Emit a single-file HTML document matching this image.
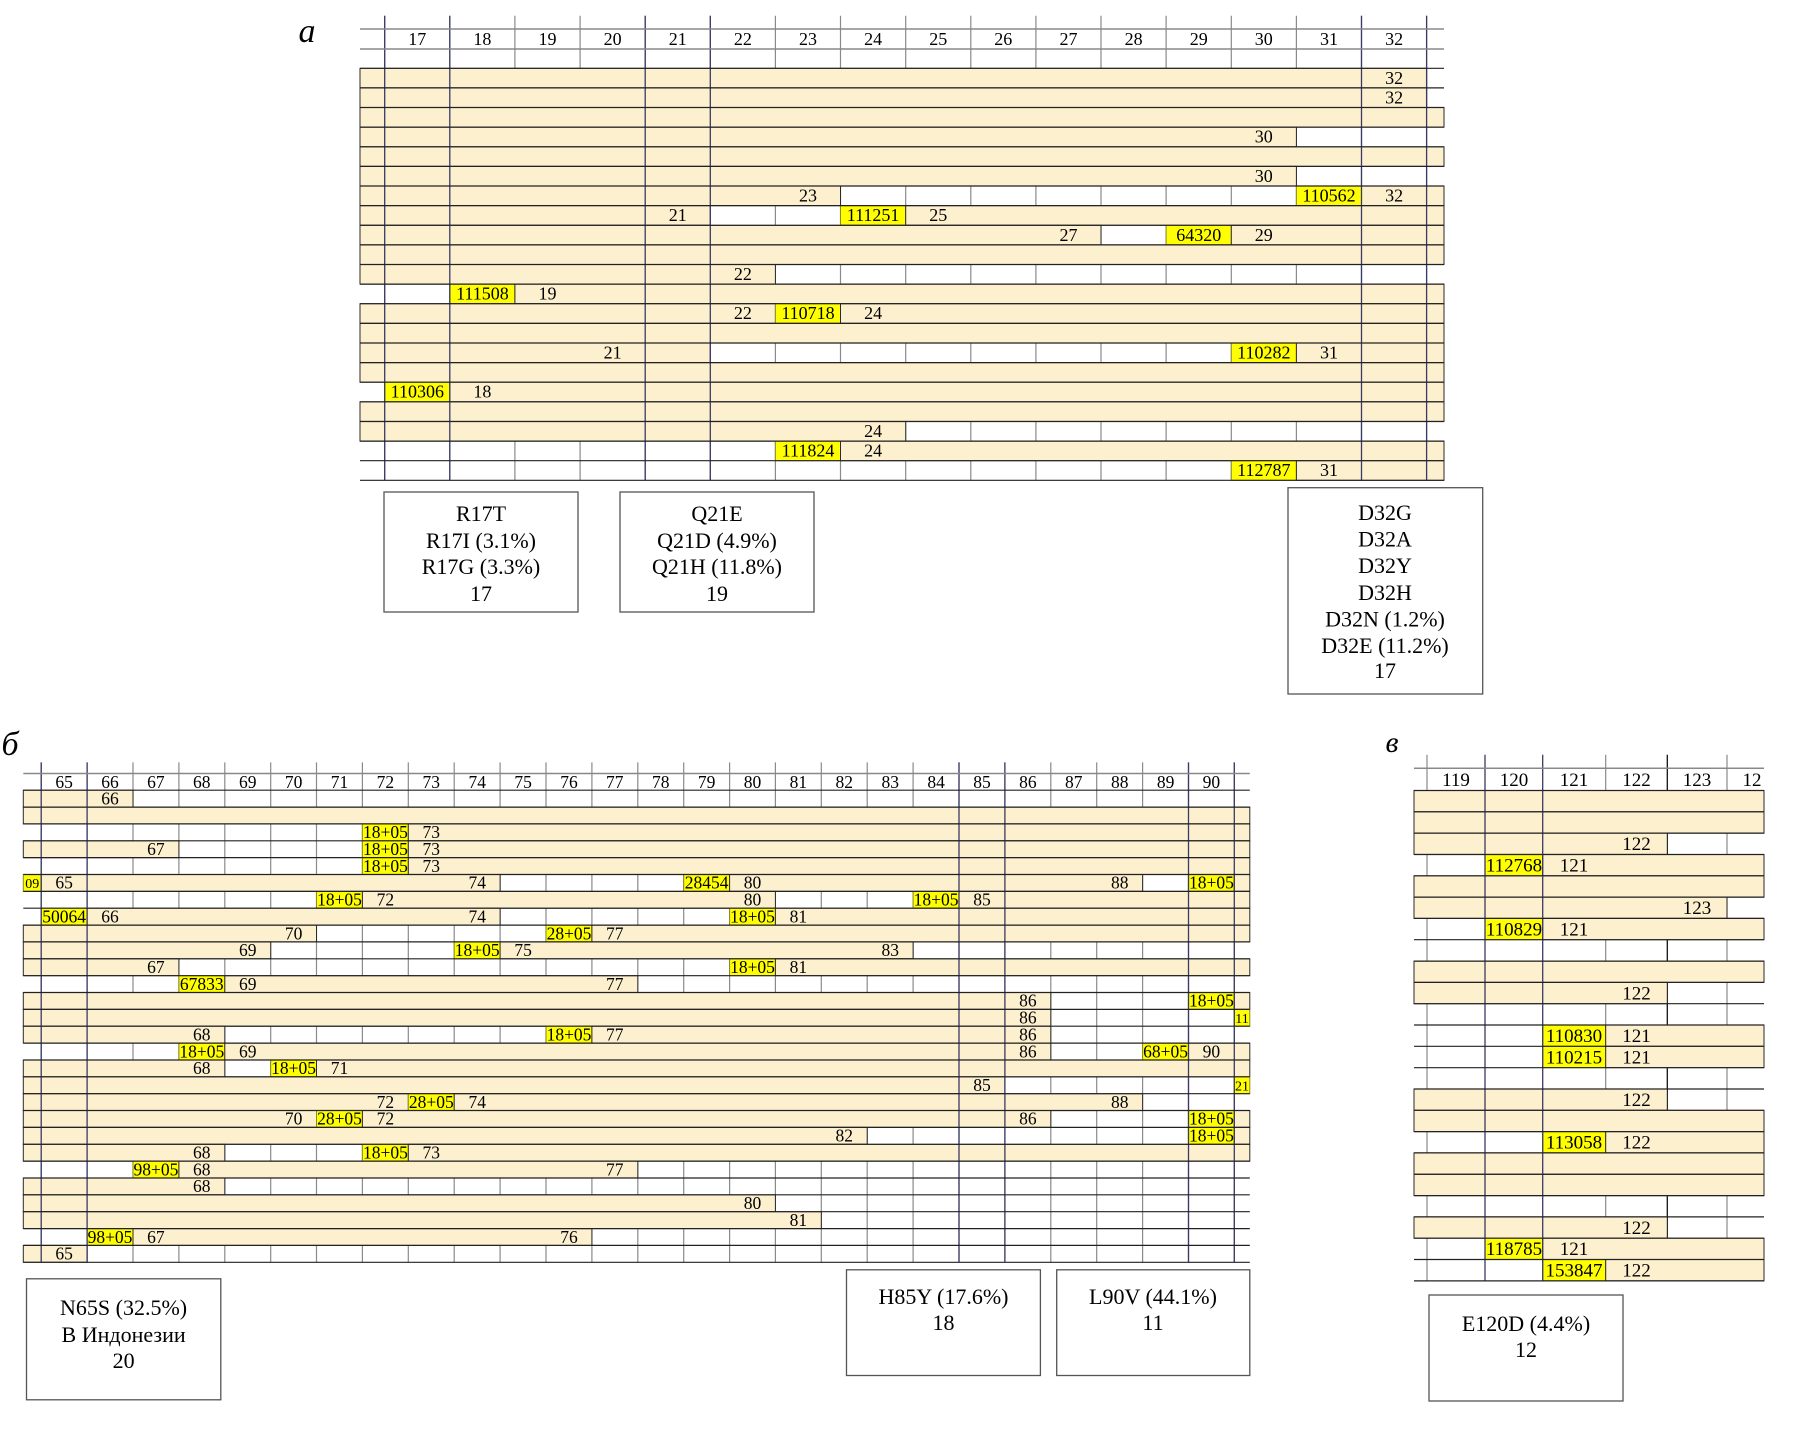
<!DOCTYPE html>
<html><head><meta charset="utf-8"><style>
html,body{margin:0;padding:0;background:#fff}
svg{display:block}
text{font-family:"Liberation Serif",serif;fill:#000;text-anchor:middle}
.b{fill:#fdf0cf;stroke:#2a2a2a;stroke-width:1}
.y{fill:#ffff00;stroke:#8a8a30;stroke-width:1}
.A text{font-size:18px}
.B text{font-size:17.5px}
.C text{font-size:19px}
.box{fill:none;stroke:#555;stroke-width:1.3}
.gv{stroke:#8a8a8a;stroke-width:1.2;fill:none}
.nv{stroke:#3a3a66;stroke-width:1.3;fill:none}
.hl{stroke:#222;stroke-width:1.2;fill:none}
.hg{stroke:#888;stroke-width:1.5;fill:none}
</style></head><body>
<svg width="1801" height="1431" viewBox="0 0 1801 1431" xmlns="http://www.w3.org/2000/svg">
<text x="307" y="42" style="font-size:34px;font-style:italic">а</text>
<text x="10" y="755" style="font-size:34px;font-style:italic">б</text>
<text x="1392" y="752" style="font-size:30px;font-style:italic">в</text>

<!-- ================= PANEL A ================= -->
<g class="A">
<path class="gv" d="M384.7 15.7V480.3M449.8 15.7V480.3M514.9 15.7V480.3M580.1 15.7V480.3M645.2 15.7V480.3M710.3 15.7V480.3M775.4 15.7V480.3M840.5 15.7V480.3M905.7 15.7V480.3M970.8 15.7V480.3M1035.9 15.7V480.3M1101 15.7V480.3M1166.1 15.7V480.3M1231.3 15.7V480.3M1296.4 15.7V480.3M1361.5 15.7V480.3M1426.6 15.7V480.3"/>
<g transform="translate(0,68.3)"><rect class="b" x="360" width="1066.6" height="19.62"/><text x="1394.1" y="15.5">32</text></g>
<g transform="translate(0,87.9)"><rect class="b" x="360" width="1066.6" height="19.62"/><text x="1394.1" y="15.5">32</text></g>
<g transform="translate(0,107.5)"><rect class="b" x="360" width="1084" height="19.62"/></g>
<g transform="translate(0,127.2)"><rect class="b" x="360" width="936.4" height="19.62"/><text x="1263.8" y="15.5">30</text></g>
<g transform="translate(0,146.8)"><rect class="b" x="360" width="1084" height="19.62"/></g>
<g transform="translate(0,166.4)"><rect class="b" x="360" width="936.4" height="19.62"/><text x="1263.8" y="15.5">30</text></g>
<g transform="translate(0,186.0)"><rect class="b" x="360" width="480.5" height="19.62"/><text x="808" y="15.5">23</text><rect class="y" x="1296.4" width="65.1" height="19.62"/><text x="1329" y="15.5">110562</text><rect class="b" x="1361.5" width="82.5" height="19.62"/><text x="1394.1" y="15.5">32</text></g>
<g transform="translate(0,205.6)"><rect class="b" x="360" width="350.3" height="19.62"/><text x="677.8" y="15.5">21</text><rect class="y" x="840.5" width="65.2" height="19.62"/><text x="873.1" y="15.5">111251</text><rect class="b" x="905.7" width="538.3" height="19.62"/><text x="938.2" y="15.5">25</text></g>
<g transform="translate(0,225.3)"><rect class="b" x="360" width="741" height="19.62"/><text x="1068.5" y="15.5">27</text><rect class="y" x="1166.1" width="65.2" height="19.62"/><text x="1198.7" y="15.5">64320</text><rect class="b" x="1231.3" width="212.7" height="19.62"/><text x="1263.8" y="15.5">29</text></g>
<g transform="translate(0,244.9)"><rect class="b" x="360" width="1084" height="19.62"/></g>
<g transform="translate(0,264.5)"><rect class="b" x="360" width="415.4" height="19.62"/><text x="742.9" y="15.5">22</text></g>
<g transform="translate(0,284.1)"><rect class="y" x="449.8" width="65.1" height="19.62"/><text x="482.4" y="15.5">111508</text><rect class="b" x="514.9" width="929.1" height="19.62"/><text x="547.5" y="15.5">19</text></g>
<g transform="translate(0,303.7)"><rect class="b" x="360" width="415.4" height="19.62"/><text x="742.9" y="15.5">22</text><rect class="y" x="775.4" width="65.1" height="19.62"/><text x="808" y="15.5">110718</text><rect class="b" x="840.5" width="603.5" height="19.62"/><text x="873.1" y="15.5">24</text></g>
<g transform="translate(0,323.4)"><rect class="b" x="360" width="1084" height="19.62"/></g>
<g transform="translate(0,343.0)"><rect class="b" x="360" width="350.3" height="19.62"/><text x="612.6" y="15.5">21</text><rect class="y" x="1231.3" width="65.1" height="19.62"/><text x="1263.8" y="15.5">110282</text><rect class="b" x="1296.4" width="147.6" height="19.62"/><text x="1329" y="15.5">31</text></g>
<g transform="translate(0,362.6)"><rect class="b" x="360" width="1084" height="19.62"/></g>
<g transform="translate(0,382.2)"><rect class="y" x="384.7" width="65.1" height="19.62"/><text x="417.3" y="15.5">110306</text><rect class="b" x="449.8" width="994.2" height="19.62"/><text x="482.4" y="15.5">18</text></g>
<g transform="translate(0,401.8)"><rect class="b" x="360" width="1084" height="19.62"/></g>
<g transform="translate(0,421.5)"><rect class="b" x="360" width="545.7" height="19.62"/><text x="873.1" y="15.5">24</text></g>
<g transform="translate(0,441.1)"><rect class="y" x="775.4" width="65.1" height="19.62"/><text x="808" y="15.5">111824</text><rect class="b" x="840.5" width="603.5" height="19.62"/><text x="873.1" y="15.5">24</text></g>
<g transform="translate(0,460.7)"><rect class="y" x="1231.3" width="65.1" height="19.62"/><text x="1263.8" y="15.5">112787</text><rect class="b" x="1296.4" width="147.6" height="19.62"/><text x="1329" y="15.5">31</text></g>
<path class="nv" d="M384.7 15.7V480.3M449.8 15.7V480.3M645.2 15.7V480.3M710.3 15.7V480.3M1361.5 15.7V480.3M1426.6 15.7V480.3"/>
<path class="hg" d="M360 29H1444M360 49H1444"/>
<path class="hl" d="M360 68.3H1444M360 87.9H1444M360 107.5H1444M360 127.2H1444M360 146.8H1444M360 166.4H1444M360 186H1444M360 205.6H1444M360 225.3H1444M360 244.9H1444M360 264.5H1444M360 284.1H1444M360 303.7H1444M360 323.4H1444M360 343H1444M360 362.6H1444M360 382.2H1444M360 401.8H1444M360 421.5H1444M360 441.1H1444M360 460.7H1444M360 480.3H1444"/>
<g transform="translate(0,45)"><text x="417.3">17</text><text x="482.4">18</text><text x="547.5">19</text><text x="612.6">20</text><text x="677.8">21</text><text x="742.9">22</text><text x="808">23</text><text x="873.1">24</text><text x="938.2">25</text><text x="1003.3">26</text><text x="1068.5">27</text><text x="1133.6">28</text><text x="1198.7">29</text><text x="1263.8">30</text><text x="1329">31</text><text x="1394.1">32</text></g>
</g>
<rect class="box" x="384" y="492" width="194" height="120"/>
<text x="481" y="521" style="font-size:22px">R17T</text><text x="481" y="548" style="font-size:22px">R17I (3.1%)</text><text x="481" y="574" style="font-size:22px">R17G (3.3%)</text><text x="481" y="601" style="font-size:22px">17</text>
<rect class="box" x="620" y="492" width="194" height="120"/>
<text x="717" y="521" style="font-size:22px">Q21E</text><text x="717" y="548" style="font-size:22px">Q21D (4.9%)</text><text x="717" y="574" style="font-size:22px">Q21H (11.8%)</text><text x="717" y="601" style="font-size:22px">19</text>
<rect class="box" x="1288" y="487.7" width="194.7" height="206.3"/>
<text x="1385" y="520" style="font-size:22px">D32G</text><text x="1385" y="546.5" style="font-size:22px">D32A</text><text x="1385" y="573" style="font-size:22px">D32Y</text><text x="1385" y="600" style="font-size:22px">D32H</text><text x="1385" y="626.5" style="font-size:22px">D32N (1.2%)</text><text x="1385" y="653" style="font-size:22px">D32E (11.2%)</text><text x="1385" y="678" style="font-size:22px">17</text>

<!-- ================= PANEL B ================= -->
<g class="B">
<path class="gv" d="M41.2 762.4V1262.3M87.1 762.4V1262.3M133 762.4V1262.3M178.9 762.4V1262.3M224.8 762.4V1262.3M270.7 762.4V1262.3M316.5 762.4V1262.3M362.4 762.4V1262.3M408.3 762.4V1262.3M454.2 762.4V1262.3M500.1 762.4V1262.3M546 762.4V1262.3M591.9 762.4V1262.3M637.8 762.4V1262.3M683.7 762.4V1262.3M729.6 762.4V1262.3M775.4 762.4V1262.3M821.3 762.4V1262.3M867.2 762.4V1262.3M913.1 762.4V1262.3M959 762.4V1262.3M1004.9 762.4V1262.3M1050.8 762.4V1262.3M1096.7 762.4V1262.3M1142.6 762.4V1262.3M1188.5 762.4V1262.3M1234.3 762.4V1262.3"/>
<g transform="translate(0,790.2)"><rect class="b" x="23.3" width="109.7" height="16.86"/><text x="110" y="14.2">66</text></g>
<g transform="translate(0,807.1)"><rect class="b" x="23.3" width="1226.5" height="16.86"/></g>
<g transform="translate(0,823.9)"><rect class="y" x="362.4" width="45.9" height="16.86"/><text x="385.4" y="14.2">18+05</text><rect class="b" x="408.3" width="841.5" height="16.86"/><text x="431.3" y="14.2">73</text></g>
<g transform="translate(0,840.8)"><rect class="b" x="23.3" width="155.6" height="16.86"/><text x="155.9" y="14.2">67</text><rect class="y" x="362.4" width="45.9" height="16.86"/><text x="385.4" y="14.2">18+05</text><rect class="b" x="408.3" width="841.5" height="16.86"/><text x="431.3" y="14.2">73</text></g>
<g transform="translate(0,857.6)"><rect class="y" x="362.4" width="45.9" height="16.86"/><text x="385.4" y="14.2">18+05</text><rect class="b" x="408.3" width="841.5" height="16.86"/><text x="431.3" y="14.2">73</text></g>
<g transform="translate(0,874.5)"><rect class="y" x="23.3" width="17.9" height="16.86"/><text x="32.2" y="13.5" style="font-size:14px">09</text><rect class="b" x="41.2" width="458.9" height="16.86"/><text x="64.1" y="14.2">65</text><text x="477.2" y="14.2">74</text><rect class="y" x="683.7" width="45.9" height="16.86"/><text x="706.6" y="14.2">28454</text><rect class="b" x="729.6" width="413" height="16.86"/><text x="752.5" y="14.2">80</text><text x="1119.7" y="14.2">88</text><rect class="y" x="1188.5" width="45.8" height="16.86"/><text x="1211.4" y="14.2">18+05</text><rect class="b" x="1234.3" width="15.5" height="16.86"/></g>
<g transform="translate(0,891.4)"><rect class="y" x="316.5" width="45.9" height="16.86"/><text x="339.5" y="14.2">18+05</text><rect class="b" x="362.4" width="413" height="16.86"/><text x="385.4" y="14.2">72</text><text x="752.5" y="14.2">80</text><rect class="y" x="913.1" width="45.9" height="16.86"/><text x="936.1" y="14.2">18+05</text><rect class="b" x="959" width="290.8" height="16.86"/><text x="982" y="14.2">85</text></g>
<g transform="translate(0,908.2)"><rect class="y" x="41.2" width="45.9" height="16.86"/><text x="64.1" y="14.2">50064</text><rect class="b" x="87.1" width="413" height="16.86"/><text x="110" y="14.2">66</text><text x="477.2" y="14.2">74</text><rect class="y" x="729.6" width="45.8" height="16.86"/><text x="752.5" y="14.2">18+05</text><rect class="b" x="775.4" width="474.4" height="16.86"/><text x="798.4" y="14.2">81</text></g>
<g transform="translate(0,925.1)"><rect class="b" x="23.3" width="293.2" height="16.86"/><text x="293.6" y="14.2">70</text><rect class="y" x="546" width="45.9" height="16.86"/><text x="569" y="14.2">28+05</text><rect class="b" x="591.9" width="657.9" height="16.86"/><text x="614.8" y="14.2">77</text></g>
<g transform="translate(0,941.9)"><rect class="b" x="23.3" width="247.4" height="16.86"/><text x="247.7" y="14.2">69</text><rect class="y" x="454.2" width="45.9" height="16.86"/><text x="477.2" y="14.2">18+05</text><rect class="b" x="500.1" width="413" height="16.86"/><text x="523.1" y="14.2">75</text><text x="890.2" y="14.2">83</text></g>
<g transform="translate(0,958.8)"><rect class="b" x="23.3" width="155.6" height="16.86"/><text x="155.9" y="14.2">67</text><rect class="y" x="729.6" width="45.8" height="16.86"/><text x="752.5" y="14.2">18+05</text><rect class="b" x="775.4" width="474.4" height="16.86"/><text x="798.4" y="14.2">81</text></g>
<g transform="translate(0,975.7)"><rect class="y" x="178.9" width="45.9" height="16.86"/><text x="201.8" y="14.2">67833</text><rect class="b" x="224.8" width="413" height="16.86"/><text x="247.7" y="14.2">69</text><text x="614.8" y="14.2">77</text></g>
<g transform="translate(0,992.5)"><rect class="b" x="23.3" width="1027.5" height="16.86"/><text x="1027.9" y="14.2">86</text><rect class="y" x="1188.5" width="45.8" height="16.86"/><text x="1211.4" y="14.2">18+05</text><rect class="b" x="1234.3" width="15.5" height="16.86"/></g>
<g transform="translate(0,1009.4)"><rect class="b" x="23.3" width="1027.5" height="16.86"/><text x="1027.9" y="14.2">86</text><rect class="y" x="1234.3" width="15.5" height="16.86"/><text x="1242" y="13.5" style="font-size:14px">11</text></g>
<g transform="translate(0,1026.2)"><rect class="b" x="23.3" width="201.5" height="16.86"/><text x="201.8" y="14.2">68</text><rect class="y" x="546" width="45.9" height="16.86"/><text x="569" y="14.2">18+05</text><rect class="b" x="591.9" width="458.9" height="16.86"/><text x="614.8" y="14.2">77</text><text x="1027.9" y="14.2">86</text></g>
<g transform="translate(0,1043.1)"><rect class="y" x="178.9" width="45.9" height="16.86"/><text x="201.8" y="14.2">18+05</text><rect class="b" x="224.8" width="826" height="16.86"/><text x="247.7" y="14.2">69</text><text x="1027.9" y="14.2">86</text><rect class="y" x="1142.6" width="45.9" height="16.86"/><text x="1165.6" y="14.2">68+05</text><rect class="b" x="1188.5" width="61.3" height="16.86"/><text x="1211.4" y="14.2">90</text></g>
<g transform="translate(0,1060.0)"><rect class="b" x="23.3" width="201.5" height="16.86"/><text x="201.8" y="14.2">68</text><rect class="y" x="270.7" width="45.8" height="16.86"/><text x="293.6" y="14.2">18+05</text><rect class="b" x="316.5" width="933.3" height="16.86"/><text x="339.5" y="14.2">71</text></g>
<g transform="translate(0,1076.8)"><rect class="b" x="23.3" width="981.6" height="16.86"/><text x="982" y="14.2">85</text><rect class="y" x="1234.3" width="15.5" height="16.86"/><text x="1242" y="13.5" style="font-size:14px">21</text></g>
<g transform="translate(0,1093.7)"><rect class="b" x="23.3" width="385" height="16.86"/><text x="385.4" y="14.2">72</text><rect class="y" x="408.3" width="45.9" height="16.86"/><text x="431.3" y="14.2">28+05</text><rect class="b" x="454.2" width="688.4" height="16.86"/><text x="477.2" y="14.2">74</text><text x="1119.7" y="14.2">88</text></g>
<g transform="translate(0,1110.5)"><rect class="b" x="23.3" width="293.2" height="16.86"/><text x="293.6" y="14.2">70</text><rect class="y" x="316.5" width="45.9" height="16.86"/><text x="339.5" y="14.2">28+05</text><rect class="b" x="362.4" width="688.4" height="16.86"/><text x="385.4" y="14.2">72</text><text x="1027.9" y="14.2">86</text><rect class="y" x="1188.5" width="45.8" height="16.86"/><text x="1211.4" y="14.2">18+05</text><rect class="b" x="1234.3" width="15.5" height="16.86"/></g>
<g transform="translate(0,1127.4)"><rect class="b" x="23.3" width="843.9" height="16.86"/><text x="844.3" y="14.2">82</text><rect class="y" x="1188.5" width="45.8" height="16.86"/><text x="1211.4" y="14.2">18+05</text><rect class="b" x="1234.3" width="15.5" height="16.86"/></g>
<g transform="translate(0,1144.3)"><rect class="b" x="23.3" width="201.5" height="16.86"/><text x="201.8" y="14.2">68</text><rect class="y" x="362.4" width="45.9" height="16.86"/><text x="385.4" y="14.2">18+05</text><rect class="b" x="408.3" width="841.5" height="16.86"/><text x="431.3" y="14.2">73</text></g>
<g transform="translate(0,1161.1)"><rect class="y" x="133" width="45.9" height="16.86"/><text x="155.9" y="14.2">98+05</text><rect class="b" x="178.9" width="458.9" height="16.86"/><text x="201.8" y="14.2">68</text><text x="614.8" y="14.2">77</text></g>
<g transform="translate(0,1178.0)"><rect class="b" x="23.3" width="201.5" height="16.86"/><text x="201.8" y="14.2">68</text></g>
<g transform="translate(0,1194.8)"><rect class="b" x="23.3" width="752.1" height="16.86"/><text x="752.5" y="14.2">80</text></g>
<g transform="translate(0,1211.7)"><rect class="b" x="23.3" width="798" height="16.86"/><text x="798.4" y="14.2">81</text></g>
<g transform="translate(0,1228.6)"><rect class="y" x="87.1" width="45.9" height="16.86"/><text x="110" y="14.2">98+05</text><rect class="b" x="133" width="458.9" height="16.86"/><text x="155.9" y="14.2">67</text><text x="569" y="14.2">76</text></g>
<g transform="translate(0,1245.4)"><rect class="b" x="23.3" width="63.8" height="16.86"/><text x="64.1" y="14.2">65</text></g>
<path class="nv" d="M41.2 762.4V1262.3M87.1 762.4V1262.3M959 762.4V1262.3M1004.9 762.4V1262.3M1188.5 762.4V1262.3M1234.3 762.4V1262.3"/>
<path class="hg" d="M23.3 773.5H1249.8"/>
<path class="hl" d="M23.3 790.2H1249.8M23.3 807.1H1249.8M23.3 823.9H1249.8M23.3 840.8H1249.8M23.3 857.6H1249.8M23.3 874.5H1249.8M23.3 891.4H1249.8M23.3 908.2H1249.8M23.3 925.1H1249.8M23.3 941.9H1249.8M23.3 958.8H1249.8M23.3 975.7H1249.8M23.3 992.5H1249.8M23.3 1009.4H1249.8M23.3 1026.2H1249.8M23.3 1043.1H1249.8M23.3 1060H1249.8M23.3 1076.8H1249.8M23.3 1093.7H1249.8M23.3 1110.5H1249.8M23.3 1127.4H1249.8M23.3 1144.3H1249.8M23.3 1161.1H1249.8M23.3 1178H1249.8M23.3 1194.8H1249.8M23.3 1211.7H1249.8M23.3 1228.6H1249.8M23.3 1245.4H1249.8M23.3 1262.3H1249.8"/>
<g transform="translate(0,788)"><text x="64.1">65</text><text x="110">66</text><text x="155.9">67</text><text x="201.8">68</text><text x="247.7">69</text><text x="293.6">70</text><text x="339.5">71</text><text x="385.4">72</text><text x="431.3">73</text><text x="477.2">74</text><text x="523.1">75</text><text x="569">76</text><text x="614.8">77</text><text x="660.7">78</text><text x="706.6">79</text><text x="752.5">80</text><text x="798.4">81</text><text x="844.3">82</text><text x="890.2">83</text><text x="936.1">84</text><text x="982">85</text><text x="1027.9">86</text><text x="1073.8">87</text><text x="1119.7">88</text><text x="1165.6">89</text><text x="1211.4">90</text></g>
</g>
<rect class="box" x="26.5" y="1278.8" width="194.3" height="121"/>
<text x="123.6" y="1315" style="font-size:22px">N65S (32.5%)</text><text x="123.6" y="1342" style="font-size:22px">В Индонезии</text><text x="123.6" y="1368" style="font-size:22px">20</text>
<rect class="box" x="846.5" y="1269.8" width="193.9" height="105.7"/>
<text x="943.5" y="1304" style="font-size:22px">H85Y (17.6%)</text><text x="943.5" y="1330" style="font-size:22px">18</text>
<rect class="box" x="1056.7" y="1269.8" width="193.1" height="105.7"/>
<text x="1153" y="1304" style="font-size:22px">L90V (44.1%)</text><text x="1153" y="1330" style="font-size:22px">11</text>

<!-- ================= PANEL C ================= -->
<g class="C">
<path class="gv" d="M1427 754.8V1280.9M1605.7 754.8V1280.9M1727 754.8V1280.9"/>
<path d="M1667.3 754.8V1280.9" stroke="#111" stroke-width="1.3"/>
<g transform="translate(0,790.5)"><rect class="b" x="1414" width="350" height="21.32"/></g>
<g transform="translate(0,811.8)"><rect class="b" x="1414" width="350" height="21.32"/></g>
<g transform="translate(0,833.1)"><rect class="b" x="1414" width="253.3" height="21.32"/><text x="1636.5" y="17">122</text></g>
<g transform="translate(0,854.5)"><rect class="y" x="1485" width="57.7" height="21.32"/><text x="1514" y="17">112768</text><rect class="b" x="1542.7" width="221.3" height="21.32"/><text x="1574" y="17">121</text></g>
<g transform="translate(0,875.8)"><rect class="b" x="1414" width="350" height="21.32"/></g>
<g transform="translate(0,897.1)"><rect class="b" x="1414" width="313" height="21.32"/><text x="1697" y="17">123</text></g>
<g transform="translate(0,918.4)"><rect class="y" x="1485" width="57.7" height="21.32"/><text x="1514" y="17">110829</text><rect class="b" x="1542.7" width="221.3" height="21.32"/><text x="1574" y="17">121</text></g>
<g transform="translate(0,961.1)"><rect class="b" x="1414" width="350" height="21.32"/></g>
<g transform="translate(0,982.4)"><rect class="b" x="1414" width="253.3" height="21.32"/><text x="1636.5" y="17">122</text></g>
<g transform="translate(0,1025.0)"><rect class="y" x="1542.7" width="63" height="21.32"/><text x="1574" y="17">110830</text><rect class="b" x="1605.7" width="158.3" height="21.32"/><text x="1636.5" y="17">121</text></g>
<g transform="translate(0,1046.3)"><rect class="y" x="1542.7" width="63" height="21.32"/><text x="1574" y="17">110215</text><rect class="b" x="1605.7" width="158.3" height="21.32"/><text x="1636.5" y="17">121</text></g>
<g transform="translate(0,1089.0)"><rect class="b" x="1414" width="253.3" height="21.32"/><text x="1636.5" y="17">122</text></g>
<g transform="translate(0,1110.3)"><rect class="b" x="1414" width="350" height="21.32"/></g>
<g transform="translate(0,1131.6)"><rect class="y" x="1542.7" width="63" height="21.32"/><text x="1574" y="17">113058</text><rect class="b" x="1605.7" width="158.3" height="21.32"/><text x="1636.5" y="17">122</text></g>
<g transform="translate(0,1152.9)"><rect class="b" x="1414" width="350" height="21.32"/></g>
<g transform="translate(0,1174.3)"><rect class="b" x="1414" width="350" height="21.32"/></g>
<g transform="translate(0,1216.9)"><rect class="b" x="1414" width="253.3" height="21.32"/><text x="1636.5" y="17">122</text></g>
<g transform="translate(0,1238.2)"><rect class="y" x="1485" width="57.7" height="21.32"/><text x="1514" y="17">118785</text><rect class="b" x="1542.7" width="221.3" height="21.32"/><text x="1574" y="17">121</text></g>
<g transform="translate(0,1259.5)"><rect class="y" x="1542.7" width="63" height="21.32"/><text x="1574" y="17">153847</text><rect class="b" x="1605.7" width="158.3" height="21.32"/><text x="1636.5" y="17">122</text></g>
<path class="nv" d="M1485 754.8V1280.9M1542.7 754.8V1280.9"/>
<path class="hg" d="M1414 768.2H1764"/>
<path class="hl" d="M1414 790.5H1764M1414 811.8H1764M1414 833.1H1764M1414 854.5H1764M1414 875.8H1764M1414 897.1H1764M1414 918.4H1764M1414 939.7H1764M1414 961.1H1764M1414 982.4H1764M1414 1003.7H1764M1414 1025H1764M1414 1046.3H1764M1414 1067.7H1764M1414 1089H1764M1414 1110.3H1764M1414 1131.6H1764M1414 1152.9H1764M1414 1174.3H1764M1414 1195.6H1764M1414 1216.9H1764M1414 1238.2H1764M1414 1259.5H1764M1414 1280.9H1764"/>
<g transform="translate(0,786)"><text x="1456">119</text><text x="1514">120</text><text x="1574">121</text><text x="1636.5">122</text><text x="1697">123</text><text x="1752">12</text></g>
</g>
<rect class="box" x="1429" y="1295" width="194" height="106"/>
<text x="1526" y="1331" style="font-size:22px">E120D (4.4%)</text><text x="1526" y="1357" style="font-size:22px">12</text>
</svg>
</body></html>
